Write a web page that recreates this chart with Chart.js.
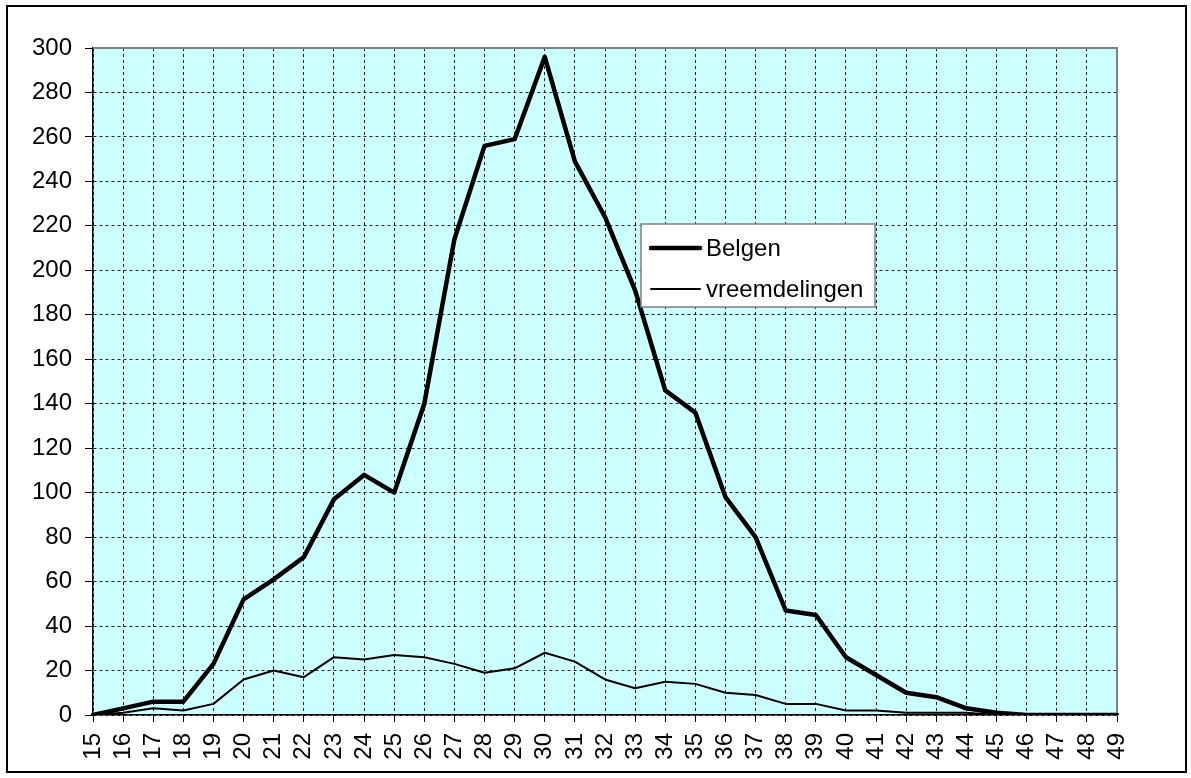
<!DOCTYPE html>
<html>
<head>
<meta charset="utf-8">
<script src="https://cdn.jsdelivr.net/npm/chart.js@4/dist/chart.umd.min.js"></script>
<style>
  body { margin: 0; background: #fff; }
  #wrap { width: 1191px; height: 778px; }
</style>
</head>
<body>
<div id="wrap"><canvas id="chart" width="1191" height="778"></canvas></div>
<script>
// ages on the x axis
const ages = [15,16,17,18,19,20,21,22,23,24,25,26,27,28,29,30,31,32,33,34,35,36,37,38,39,40,41,42,43,44,45,46,47,48,49]
const belgen = [0,3,6,6,23,52,61,71,97,108,100,140,214,256,259,296,249,224,191,146,136,98,80,47,45,26,18,10,8,3,1,0,0,0,0]
const vreemdelingen = [0,1,3,2,5,16,20,17,26,25,27,26,23,19,21,28,24,16,12,15,14,10,9,5,5,2,2,1,1,1,0,0,0,0,0]
const seriesNames = ['Belgen', 'vreemdelingen']

const FONT = "'Liberation Sans', Arial, sans-serif"

// white page, outer frame and cyan plot area
const frame = {
  id: 'frame',
  beforeDraw(chart) {
    const {ctx, chartArea: a} = chart
    ctx.save()
    ctx.fillStyle = '#fff'
    ctx.fillRect(0, 0, chart.width, chart.height)
    ctx.strokeStyle = '#000'
    ctx.lineWidth = 2
    ctx.strokeRect(7, 6, 1179, 766)
    ctx.fillStyle = '#ccffff'
    ctx.fillRect(a.left, a.top, a.right - a.left, a.bottom - a.top)
    ctx.restore()
  },
  beforeDatasetsDraw(chart) {
    const {ctx, chartArea: a} = chart
    ctx.save()
    ctx.strokeStyle = '#808080'
    ctx.lineWidth = 2
    ctx.beginPath()
    ctx.moveTo(a.left, a.top)
    ctx.lineTo(a.right, a.top)
    ctx.lineTo(a.right, a.bottom)
    ctx.stroke()
    ctx.restore()
  }
}

// legend box inside the plot
const boxLegend = {
  id: 'boxLegend',
  afterDraw(chart) {
    const ctx = chart.ctx
    const x = 641, y = 224, w = 234, h = 83
    ctx.save()
    ctx.fillStyle = '#fff'
    ctx.fillRect(x, y, w, h)
    ctx.strokeStyle = '#808080'
    ctx.lineWidth = 1.5
    ctx.strokeRect(x, y, w, h)
    ctx.font = '24px ' + FONT
    ctx.textBaseline = 'middle'
    chart.data.datasets.forEach((ds, i) => {
      const ly = y + 24 + i * 41
      ctx.strokeStyle = ds.borderColor
      ctx.lineWidth = ds.borderWidth
      ctx.lineCap = 'round'
      ctx.beginPath()
      ctx.moveTo(651, ly)
      ctx.lineTo(700, ly)
      ctx.stroke()
      ctx.fillStyle = '#000'
      ctx.fillText(ds.label, 706, ly + 1)
    })
    ctx.restore()
  }
}

new Chart(document.getElementById('chart'), {
  type: 'line',
  data: {
    labels: ages,
    datasets: [
      {
        label: seriesNames[0],
        data: belgen,
        borderColor: '#000',
        borderWidth: 4.5,
        pointRadius: 0,
        tension: 0,
        borderJoinStyle: 'round',
        borderCapStyle: 'round'
      },
      {
        label: seriesNames[1],
        data: vreemdelingen,
        borderColor: '#000',
        borderWidth: 2,
        pointRadius: 0,
        tension: 0,
        borderJoinStyle: 'round'
      }
    ]
  },
  options: {
    responsive: false,
    animation: false,
    layout: {
      padding: {left: 0, top: 48, right: 74, bottom: 0}
    },
    plugins: {
      legend: {display: false},
      tooltip: {enabled: false}
    },
    scales: {
      x: {
        offset: false,
        afterFit: s => { s.height = 63 },
        ticks: {
          autoSkip: false,
          maxRotation: 90,
          minRotation: 90,
          padding: 11,
          color: '#000',
          font: {family: FONT, size: 24}
        },
        grid: {
          color: '#222',
          lineWidth: 1,
          tickLength: 7,
          tickColor: '#000',
          tickBorderDash: []
        },
        border: {display: true, color: '#000', width: 1.5, dash: [3, 3]}
      },
      y: {
        min: 0,
        max: 300,
        afterFit: s => { s.width = 93 },
        ticks: {
          stepSize: 20,
          padding: 13,
          color: '#000',
          font: {family: FONT, size: 24}
        },
        grid: {
          color: '#222',
          lineWidth: 1,
          tickLength: 8,
          tickColor: '#000',
          tickBorderDash: []
        },
        border: {display: true, color: '#000', width: 1.5, dash: [3, 3]}
      }
    }
  },
  plugins: [frame, boxLegend]
})
</script>
</body>
</html>
